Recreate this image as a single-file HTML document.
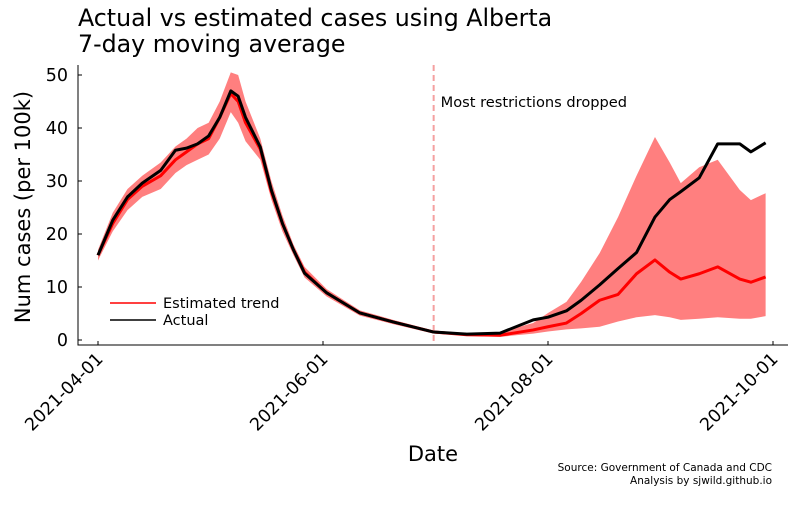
<!DOCTYPE html>
<html><head><meta charset="utf-8"><style>
body{margin:0;background:#fff;font-family:"Liberation Sans","DejaVu Sans",sans-serif}
</style></head><body>
<svg id="chart" width="800" height="500" xmlns="http://www.w3.org/2000/svg" font-family="DejaVu Sans, Liberation Sans, sans-serif">
<rect width="800" height="500" fill="#fff"/>
<text x="78" y="26" font-size="23.7">Actual vs estimated cases using Alberta</text>
<text x="78" y="52" font-size="23.7">7-day moving average</text>
<g id="plot"></g>
<text transform="translate(30,207) rotate(-90)" text-anchor="middle" font-size="21">Num cases (per 100k)</text>
<text x="433" y="461" text-anchor="middle" font-size="21">Date</text>
<text x="772" y="471" text-anchor="end" font-size="10.5">Source: Government of Canada and CDC</text>
<text x="772" y="484" text-anchor="end" font-size="10.5">Analysis by sjwild.github.io</text>
</svg>
<script>
const days=[0,4,8,12,17,21,24,27,30,33,36,38,40,44,47,50,53,56,62,71,80,91,100,109,118,122,127,131,136,141,146,151,155,158,163,168,174,177,181];
const actual=[16,22.6,27,29.6,32,35.8,36.2,37,38.5,42,47,46,42,36.4,28.3,22,17,12.6,8.9,5.1,3.4,1.5,1.1,1.3,3.8,4.3,5.5,7.5,10.4,13.5,16.5,23.2,26.5,28,30.6,37,37,35.5,37.2];
const estimate=[16,22,26.5,29,31,34,35.5,37,38,42,46.5,45,41,36,28,22,17,12.8,8.9,5.1,3.4,1.5,1.0,0.9,1.9,2.5,3.2,5,7.5,8.6,12.5,15.1,12.8,11.5,12.5,13.8,11.5,10.9,11.9];
const upper=[17,24,28.5,31,33.5,36.5,38,40,41,45,50.5,50,45,38,30,23.5,18,13.8,9.6,5.6,3.8,1.8,1.3,1.5,3.2,5.1,7.2,11,16.4,23.2,31,38.3,33.5,29.6,32.6,34,28.3,26.4,27.7];
const lower=[15,20.5,24.5,27,28.5,31.5,33,34,35,38,43,41,37.5,34,26.5,20.5,16,11.8,8.2,4.6,3.0,1.2,0.8,0.6,1.2,1.6,2.0,2.2,2.5,3.5,4.3,4.7,4.3,3.8,4.0,4.3,4.0,4.0,4.5];
const yTicks=[0,10,20,30,40,50];
const xTickDays=[0,61,122,183];
const xTickLabels=["2021-04-01","2021-06-01","2021-08-01","2021-10-01"];
const restrictionDay=91;

const ns="http://www.w3.org/2000/svg";
const g=document.getElementById('plot');
const X=d=>98+d*(675/183);
const Y=v=>340-v*5.3;
function mk(t,a){const e=document.createElementNS(ns,t);for(const k in a)e.setAttribute(k,a[k]);g.appendChild(e);return e;}
let pts=days.map((d,i)=>X(d)+','+Y(upper[i])).concat(days.slice().reverse().map((d,j)=>{const i=days.length-1-j;return X(d)+','+Y(lower[i]);}));
let band=mk('polygon',{points:pts.join(' '),fill:'#ff7f7f'});


let rl=mk('line',{x1:X(restrictionDay),x2:X(restrictionDay),y1:65,y2:345,stroke:'#f4a0a0','stroke-width':2,'stroke-dasharray':'6,4'});


let at=mk('text',{x:X(restrictionDay)+7,y:107,'font-size':14.6});
at.textContent='Most restrictions dropped';


let est=mk('polyline',{points:days.map((d,i)=>X(d)+','+Y(estimate[i])).join(' '),fill:'none',stroke:'#ff0000','stroke-width':3,'stroke-linejoin':'round'});


let act=mk('polyline',{points:days.map((d,i)=>X(d)+','+Y(actual[i])).join(' '),fill:'none',stroke:'#000','stroke-width':3,'stroke-linejoin':'round'});


let ax=mk('path',{d:'M78,65 V345 H788',fill:'none',stroke:'#000','stroke-width':1});


yTicks.forEach(v=>{
  let t=mk('line',{x1:78,x2:82,y1:Y(v),y2:Y(v),stroke:'#000'});
  
  
  let l=mk('text',{x:68,y:Y(v)+6,'text-anchor':'end','font-size':17.5});
  l.textContent=v;
  
  
});
xTickDays.forEach((d,i)=>{
  let t=mk('line',{x1:X(d),x2:X(d),y1:345,y2:341,stroke:'#000'});
  
  
  let l=mk('text',{transform:`translate(${X(d)+6},${360}) rotate(-45)`,'text-anchor':'end','font-size':17.5});
  l.textContent=xTickLabels[i];
  
  
});
let l1=mk('line',{x1:110,x2:156,y1:303,y2:303,stroke:'#ff0000','stroke-width':1.5});


let t1=mk('text',{x:163,y:308,'font-size':14.5});t1.textContent='Estimated trend';


let l2=mk('line',{x1:110,x2:156,y1:320,y2:320,stroke:'#000','stroke-width':1.5});


let t2=mk('text',{x:163,y:325,'font-size':14.5});t2.textContent='Actual';


</script>
</body></html>
